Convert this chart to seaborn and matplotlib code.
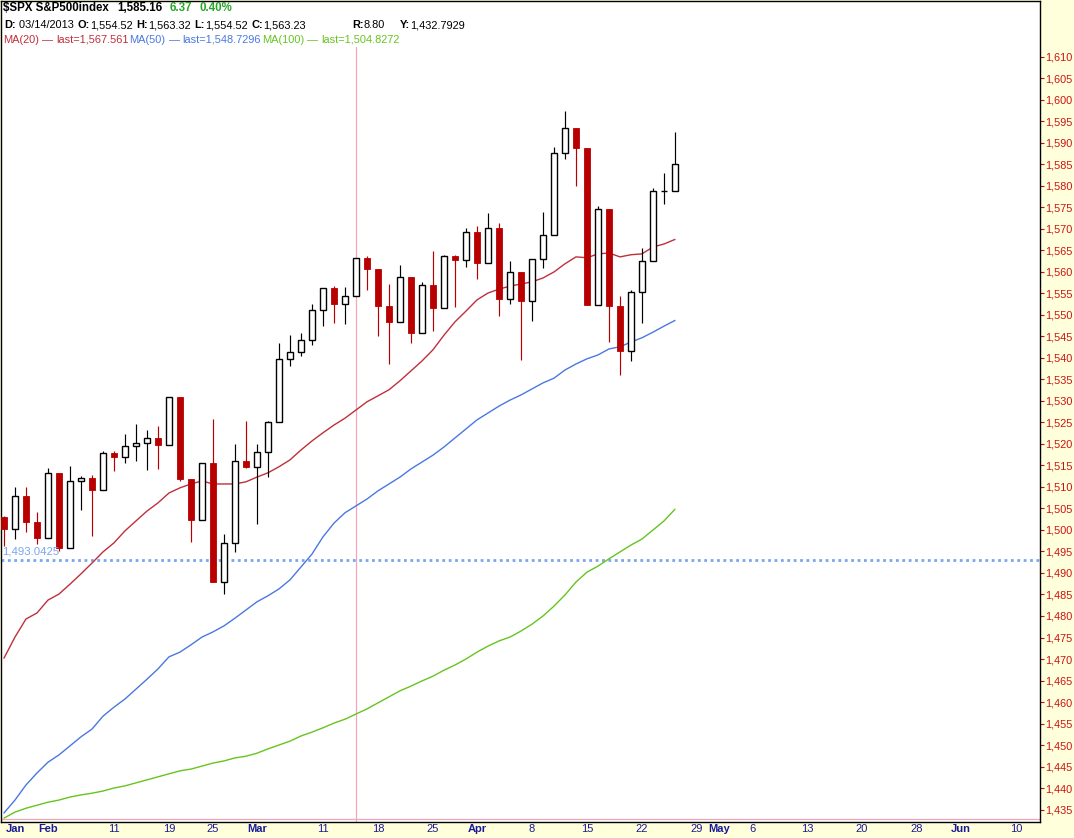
"""Candlestick chart of the S&P 500 with moving averages (stockcharts style)."""

import matplotlib
matplotlib.use("Agg")
import matplotlib.pyplot as plt
import numpy as np
import pandas as pd
import seaborn as sns

# trading days Jan 28 .. Apr 25 2013, one entry per candle
opens = [1502.96, 1500.18, 1507.84, 1501.96, 1498.11, 1513.17, 1495.71, 1511.29, 1512.12, 1509.39,
         1517.93, 1517.01, 1519.43, 1520.33, 1521.38, 1519.79, 1530.94, 1511.95, 1502.42, 1515.60,
         1487.85, 1496.94, 1515.99, 1514.68, 1518.20, 1525.20, 1539.79, 1541.46, 1544.26, 1551.18,
         1556.22, 1552.48, 1554.52, 1563.21, 1560.70, 1552.10, 1548.34, 1558.71, 1545.80, 1556.89,
         1551.69, 1563.77, 1562.85, 1569.19, 1562.17, 1570.25, 1553.69, 1559.98, 1553.28, 1563.07,
         1568.61, 1587.73, 1593.37, 1588.85, 1552.36, 1574.57, 1552.01, 1541.61, 1555.25, 1562.50,
         1578.78, 1578.83]
highs = [1503.23, 1509.94, 1509.90, 1504.19, 1514.41, 1513.17, 1514.96, 1512.53, 1512.90, 1518.31,
         1518.31, 1522.29, 1524.69, 1523.14, 1524.24, 1530.94, 1530.94, 1511.95, 1515.64, 1525.84,
         1498.99, 1520.08, 1525.34, 1519.99, 1525.27, 1543.47, 1545.25, 1545.78, 1552.48, 1556.27,
         1556.77, 1556.39, 1563.32, 1563.62, 1560.70, 1557.25, 1561.56, 1558.71, 1557.74, 1564.91,
         1563.95, 1564.00, 1570.28, 1570.57, 1573.66, 1571.47, 1562.60, 1559.98, 1563.07, 1573.89,
         1589.07, 1597.35, 1593.37, 1588.85, 1575.35, 1574.57, 1554.38, 1555.89, 1565.55, 1579.58,
         1583.00, 1592.64]
lows = [1496.33, 1498.00, 1499.60, 1496.69, 1498.11, 1495.02, 1495.71, 1504.71, 1498.49, 1509.39,
        1513.61, 1515.61, 1515.93, 1514.02, 1514.14, 1519.79, 1511.41, 1497.29, 1502.42, 1487.85,
        1485.01, 1494.87, 1514.46, 1501.48, 1512.29, 1525.20, 1538.11, 1540.50, 1542.94, 1547.36,
        1548.24, 1548.00, 1554.52, 1555.74, 1545.13, 1538.57, 1548.34, 1543.55, 1545.80, 1546.22,
        1551.69, 1551.90, 1561.08, 1558.47, 1562.17, 1549.80, 1552.52, 1539.50, 1548.63, 1560.92,
        1568.61, 1586.17, 1579.97, 1552.28, 1552.36, 1543.69, 1536.03, 1539.40, 1548.19, 1562.50,
        1575.80, 1578.83]
closes = [1500.18, 1507.84, 1501.96, 1498.11, 1513.17, 1495.71, 1511.29, 1512.12, 1509.39, 1517.93,
          1517.01, 1519.43, 1520.33, 1521.38, 1519.79, 1530.94, 1511.95, 1502.42, 1515.60, 1487.85,
          1496.94, 1515.99, 1514.68, 1518.20, 1525.20, 1539.79, 1541.46, 1544.26, 1551.18, 1556.22,
          1552.48, 1554.52, 1563.23, 1560.70, 1552.10, 1548.34, 1558.71, 1545.80, 1556.89, 1551.69,
          1563.77, 1562.85, 1569.19, 1562.17, 1570.25, 1553.69, 1559.98, 1553.28, 1563.07, 1568.61,
          1587.73, 1593.37, 1588.85, 1552.36, 1574.57, 1552.01, 1541.61, 1555.25, 1562.50, 1578.78,
          1578.79, 1585.16]

ma20 = [1470.2, 1475.1, 1479.3, 1480.7, 1483.7, 1485.1, 1487.4, 1489.8, 1492.3, 1494.9,
        1497.0, 1499.8, 1502.1, 1504.4, 1506.3, 1508.6, 1509.8, 1510.7, 1511.4, 1510.7,
        1510.7, 1510.7, 1511.2, 1512.3, 1513.3, 1514.7, 1516.3, 1518.6, 1520.7, 1522.6,
        1524.4, 1526.0, 1527.9, 1529.8, 1531.2, 1532.6, 1534.7, 1537.0, 1539.3, 1541.9,
        1545.3, 1548.4, 1550.9, 1553.5, 1555.1, 1556.0, 1556.7, 1557.2, 1557.7, 1558.6,
        1560.0, 1561.9, 1563.5, 1563.3, 1564.2, 1564.4, 1563.5, 1564.0, 1564.2, 1565.8,
        1566.5, 1567.561]
ma50 = [1434.2, 1437.2, 1440.7, 1443.5, 1446.0, 1447.7, 1449.8, 1451.9, 1453.7, 1456.7,
        1458.8, 1460.7, 1463.0, 1465.3, 1467.7, 1470.5, 1471.6, 1473.3, 1475.1, 1476.3,
        1477.7, 1479.5, 1481.4, 1483.3, 1484.7, 1486.3, 1488.4, 1491.4, 1494.4, 1498.4,
        1501.6, 1504.0, 1505.6, 1507.2, 1509.1, 1510.7, 1512.3, 1514.2, 1515.8, 1517.4,
        1519.3, 1521.4, 1523.5, 1525.6, 1527.2, 1528.8, 1530.2, 1531.4, 1532.8, 1534.2,
        1535.3, 1537.2, 1538.6, 1539.8, 1540.7, 1542.1, 1542.6, 1543.7, 1544.7, 1546.0,
        1547.4, 1548.7296]
ma100 = [1433.0, 1434.4, 1435.3, 1436.0, 1436.7, 1437.2, 1437.9, 1438.4, 1438.8, 1439.3,
         1440.0, 1440.5, 1441.2, 1441.9, 1442.6, 1443.3, 1444.0, 1444.4, 1445.1, 1445.8,
         1446.3, 1447.0, 1447.4, 1448.1, 1449.1, 1450.0, 1450.9, 1452.1, 1453.0, 1454.0,
         1455.1, 1456.0, 1457.2, 1458.4, 1459.8, 1461.2, 1462.6, 1463.7, 1464.9, 1466.0,
         1467.4, 1468.6, 1470.0, 1471.6, 1473.0, 1474.2, 1475.1, 1476.5, 1478.1, 1480.0,
         1482.3, 1484.9, 1487.9, 1490.2, 1491.6, 1493.3, 1494.9, 1496.5, 1497.9, 1500.0,
         1502.1, 1504.8272]

# x ticks are trading-day positions (future days continue the count)
tick_pos = [1, 4, 10, 15, 19, 23, 29, 34, 39, 43, 48, 53, 58, 63, 65, 68, 73, 78, 83, 87, 92]
tick_labels = ["Jan", "Feb", "11", "19", "25", "Mar", "11", "18", "25", "Apr", "8",
               "15", "22", "29", "May", "6", "13", "20", "28", "Jun", "10"]
month_names = {"Jan", "Feb", "Mar", "Apr", "May", "Jun"}
price_ticks = list(range(1435, 1611, 5))

cursor_day = 32          # 03/14/2013
cursor_price = 1432.7929
hline_price = 1493.0425

RED = "#b80000"
BG = "#ffffdc"
MA_COLORS = {"MA(20)": "#bf2f3c", "MA(50)": "#4a78e0", "MA(100)": "#66c41e"}
TEXT_FONT = ["Liberation Sans", "DejaVu Sans"]

sns.set_theme(style="white")
plt.rcParams["font.family"] = TEXT_FONT

W, H = 1074, 838
fig = plt.figure(figsize=(W / 100, H / 100), dpi=100, facecolor=BG)
ax = fig.add_axes([1 / W, 16 / H, 1039 / W, 821 / H])
ax.set_facecolor("white")

idx = np.arange(len(closes))
o = np.array(opens)
c = np.array(closes)
up = c >= o

# wicks
wick_colors = np.where(up, "black", RED)
ax.vlines(idx, lows, highs, colors=wick_colors, linewidth=0.85, zorder=3)

# bodies
body_bottom = np.minimum(o, c)
body_height = np.maximum(np.abs(c - o), 0.02)
ax.bar(idx[up], body_height[up], bottom=body_bottom[up], width=0.6,
       facecolor="white", edgecolor="black", linewidth=1.0, zorder=4)
ax.bar(idx[~up], body_height[~up], bottom=body_bottom[~up], width=0.62,
       facecolor=RED, edgecolor=RED, linewidth=0.6, zorder=4)

# moving averages
ma_df = pd.DataFrame({
    "day": np.tile(idx, 3),
    "value": ma20 + ma50 + ma100,
    "series": ["MA(20)"] * len(idx) + ["MA(50)"] * len(idx) + ["MA(100)"] * len(idx),
})
sns.lineplot(data=ma_df, x="day", y="value", hue="series", palette=MA_COLORS,
             linewidth=1.0, legend=False, ax=ax, zorder=2)

# reference line and cursor
ax.axhline(hline_price, color="#7aa6ef", linewidth=2.0, linestyle=(0, (1, 1.3)), zorder=1)
ax.text(-0.15, hline_price + 0.9, "1,493.0425", color="#7aa6ef", fontsize=8.2,
        ha="left", va="bottom", zorder=5)
ax.axvline(cursor_day, ymin=0, ymax=0.944, color="#f0a8b8", linewidth=0.9, zorder=1)
ax.axhline(cursor_price, color="#f0a8b8", linewidth=0.9, zorder=1)

ax.set_xlim(-0.27, 94.18)
ax.set_ylim(1432.1, 1623.0)

ax.yaxis.tick_right()
ax.set_yticks(price_ticks)
ax.set_yticklabels([f"{p:,}" for p in price_ticks], color="#cc1111", fontsize=7.8)
ax.tick_params(axis="y", direction="out", length=3, width=0.8, color="#cc1111", pad=1)
ax.set_xticks(tick_pos)
ax.set_xticklabels(tick_labels, color="#1a1a99", fontsize=8.0)
ax.tick_params(axis="x", length=0, pad=1.5)
for lab in ax.get_xticklabels():
    if lab.get_text() in month_names:
        lab.set_fontweight("bold")
ax.set_xlabel("")
ax.set_ylabel("")
for side in ["left", "right", "top", "bottom"]:
    ax.spines[side].set_visible(True)
    ax.spines[side].set_color("black")
    ax.spines[side].set_linewidth(1.0)
ax.grid(False)

renderer = fig.canvas.get_renderer()


class Row:
    """Lays text pieces left to right, never letting one run into the next."""

    def __init__(self, y):
        self.y = y
        self.end = 0.0

    def put(self, x, s, color="black", weight="normal", size=7.9, gap=0.0):
        x = max(x, self.end + gap)
        t = fig.text(x / W, 1 - self.y / H, s, color=color, fontweight=weight,
                     fontsize=size, ha="left", va="center")
        self.end = t.get_window_extent(renderer).x1
        return t


# header block
r1 = Row(8)
r1.put(3, "$SPX S&P500index", weight="bold", size=8.3)
r1.put(117, "1,585.16", weight="bold", size=8.3, gap=6)
r1.put(170, "6.37", color="#2aa52a", weight="bold", size=8.3, gap=6)
r1.put(200, "0.40%", color="#2aa52a", weight="bold", size=8.3, gap=5)

r2 = Row(25)
row2 = [(3, "D:", " 03/14/2013"), (73, "O:", "1,554.52"), (132, "H:", "1,563.32"),
        (190, "L:", "1,554.52"), (245, "C:", "1,563.23"), (352, "R:", "8.80"),
        (400, "Y:", "1,432.7929")]
for x, key, val in row2:
    r2.put(x, key, weight="bold", gap=4)
    r2.put(0, val)

r3 = Row(40)
row3 = [(3, "MA(20)", "last=1,567.561"),
        (128, "MA(50)", "last=1,548.7296"),
        (257, "MA(100)", "last=1,504.8272")]
for x, name, val in row3:
    col = MA_COLORS[name]
    r3.put(x, name, color=col, gap=1)
    r3.put(0, "\u2014", color=col, gap=3)
    r3.put(0, val, color=col, gap=3)

fig.savefig("out.png", dpi=100, facecolor=BG)
